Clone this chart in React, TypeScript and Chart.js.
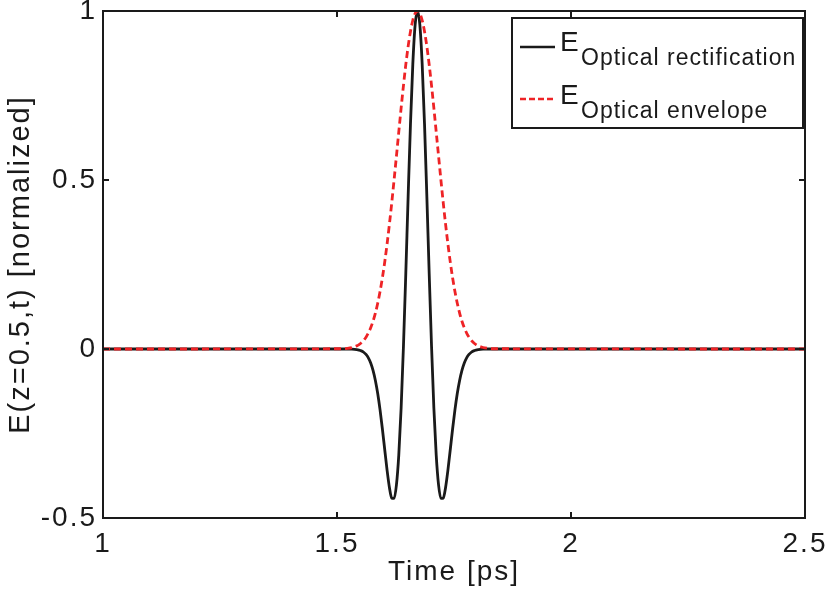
import React, { useEffect, useRef } from "react";
import { Chart, registerables } from "chart.js";

Chart.register(...registerables);

// Time axis samples [ps]
const timePs = [
  1.0, 1.512, 1.522, 1.532,
  1.542, 1.547, 1.552, 1.557, 1.562, 1.567, 1.572, 1.577, 1.582, 1.587,
  1.592, 1.597, 1.602, 1.607, 1.612, 1.617, 1.622, 1.627, 1.632, 1.637,
  1.642, 1.647, 1.652, 1.657, 1.662, 1.667, 1.672, 1.677, 1.682, 1.687,
  1.692, 1.697, 1.702, 1.707, 1.712, 1.717, 1.722, 1.727, 1.732, 1.737,
  1.742, 1.747, 1.752, 1.757, 1.762, 1.767, 1.772, 1.777, 1.782, 1.787,
  1.792, 1.797, 1.802, 1.812, 1.822, 1.832, 2.5,
];

// E optical rectification (normalized)
const rectification = [
  0, 0, 0, -0.0004,
  -0.0017, -0.0031, -0.0055, -0.0096, -0.0162, -0.0263, -0.0415, -0.0632, -0.093, -0.1319,
  -0.1802, -0.2366, -0.298, -0.3583, -0.4096, -0.4412, -0.4422, -0.4021, -0.3138, -0.1753,
  0.0081, 0.2234, 0.4509, 0.6659, 0.8429, 0.9594, 1.0, 0.9594, 0.8429, 0.6659,
  0.4509, 0.2234, 0.0081, -0.1753, -0.3138, -0.4021, -0.4422, -0.4412, -0.4096, -0.3583,
  -0.298, -0.2366, -0.1802, -0.1319, -0.093, -0.0632, -0.0415, -0.0263, -0.0162, -0.0096,
  -0.0055, -0.0031, -0.0017, -0.0004, 0, 0, 0,
];

// E optical envelope (normalized)
const envelope = [
  0, 0.0008, 0.002, 0.0044,
  0.0093, 0.0132, 0.0186, 0.0257, 0.0351, 0.0473, 0.0628, 0.0822, 0.1062, 0.1353,
  0.1701, 0.2108, 0.2576, 0.3105, 0.3692, 0.4328, 0.5006, 0.5709, 0.6422, 0.7124,
  0.7795, 0.8411, 0.8952, 0.9396, 0.9727, 0.9931, 1.0, 0.9931, 0.9727, 0.9396,
  0.8952, 0.8411, 0.7795, 0.7124, 0.6422, 0.5709, 0.5006, 0.4328, 0.3692, 0.3105,
  0.2576, 0.2108, 0.1701, 0.1353, 0.1062, 0.0822, 0.0628, 0.0473, 0.0351, 0.0257,
  0.0186, 0.0132, 0.0093, 0.0044, 0.002, 0.0008, 0,
];

const xTickValues = [1, 1.5, 2, 2.5];
const xTickLabels = ["1", "1.5", "2", "2.5"];
const yTickValues = [-0.5, 0, 0.5, 1];
const yTickLabels = ["-0.5", "0", "0.5", "1"];

const xTitle = "Time [ps]";
const yTitle = "E(z=0.5,t) [normalized]";
const legendMain = "E";
const legendSubs = ["Optical rectification", "Optical envelope"];

const FONT = "'Liberation Sans', Arial, sans-serif";
const RED = "#ee2326";
const BLACK = "#1a1a1a";

const framePlugin = {
  id: "frame",
  beforeDraw(chart: any) {
    chart.ctx.letterSpacing = "2px";
  },
  afterDraw(chart: any) {
    const ctx = chart.ctx;
    const ca = chart.chartArea;
    const xs = chart.scales.x;
    const ys = chart.scales.y;
    ctx.save();
    ctx.letterSpacing = "0px";
    ctx.strokeStyle = BLACK;
    ctx.lineWidth = 2;
    ctx.setLineDash([]);
    ctx.strokeRect(ca.left, ca.top, ca.right - ca.left, ca.bottom - ca.top);
    const tl = 6;
    ctx.beginPath();
    xTickValues.forEach((v) => {
      const px = xs.getPixelForValue(v);
      ctx.moveTo(px, ca.bottom);
      ctx.lineTo(px, ca.bottom - tl);
      ctx.moveTo(px, ca.top);
      ctx.lineTo(px, ca.top + tl);
    });
    yTickValues.forEach((v) => {
      const py = ys.getPixelForValue(v);
      ctx.moveTo(ca.left, py);
      ctx.lineTo(ca.left + tl, py);
      ctx.moveTo(ca.right, py);
      ctx.lineTo(ca.right - tl, py);
    });
    ctx.stroke();

    // legend
    const bx = ca.right - 293;
    const by = ca.top + 7;
    const bw = 291;
    const bh = 110;
    ctx.fillStyle = "#ffffff";
    ctx.fillRect(bx, by, bw, bh);
    ctx.strokeRect(bx, by, bw, bh);
    const rows = [
      { color: BLACK, dash: [] as number[], lineY: by + 29, base: by + 33 },
      { color: RED, dash: [6, 3], lineY: by + 81, base: by + 86 },
    ];
    rows.forEach((r, i) => {
      ctx.beginPath();
      ctx.strokeStyle = r.color;
      ctx.lineWidth = 2.5;
      ctx.setLineDash(r.dash);
      ctx.moveTo(bx + 8, r.lineY);
      ctx.lineTo(bx + 43, r.lineY);
      ctx.stroke();
      ctx.setLineDash([]);
      ctx.fillStyle = BLACK;
      ctx.textAlign = "left";
      ctx.textBaseline = "alphabetic";
      ctx.font = `28px ${FONT}`;
      ctx.letterSpacing = "0px";
      ctx.fillText(legendMain, bx + 48, r.base);
      ctx.font = `23px ${FONT}`;
      ctx.letterSpacing = "1px";
      ctx.fillText(legendSubs[i], bx + 69, r.base + 14);
    });
    ctx.restore();
  },
};

export default function App() {
  const ref = useRef<HTMLCanvasElement>(null);
  useEffect(() => {
    if (!ref.current) return;
    const chart = new Chart(ref.current, {
      type: "line",
      data: {
        datasets: [
          {
            label: "E Optical envelope",
            data: timePs.map((t, i) => ({ x: t, y: envelope[i] })),
            borderColor: RED,
            borderWidth: 2.8,
            borderDash: [7, 4],
            pointRadius: 0,
            cubicInterpolationMode: "monotone",
            order: 0,
          },
          {
            label: "E Optical rectification",
            data: timePs.map((t, i) => ({ x: t, y: rectification[i] })),
            borderColor: BLACK,
            borderWidth: 2.8,
            pointRadius: 0,
            cubicInterpolationMode: "monotone",
            order: 1,
          },
        ],
      },
      options: {
        responsive: false,
        animation: false,
        layout: { padding: { left: 0, right: 27, top: 11, bottom: 0 } },
        plugins: { legend: { display: false }, tooltip: { enabled: false } },
        scales: {
          x: {
            type: "linear",
            min: 1,
            max: 2.5,
            grid: { display: false, drawTicks: false },
            border: { display: false },
            afterBuildTicks: (s: any) => {
              s.ticks = xTickValues.map((v) => ({ value: v }));
            },
            afterFit: (s: any) => {
              s.height = 76;
              s.paddingLeft = 0;
              s.paddingRight = 0;
            },
            ticks: {
              color: BLACK,
              font: { family: FONT, size: 28 },
              padding: 9,
              maxRotation: 0,
              autoSkip: false,
              callback: (_v: any, i: number) => xTickLabels[i],
            },
            title: {
              display: true,
              text: xTitle,
              color: BLACK,
              font: { family: FONT, size: 28 },
              padding: { top: 0, bottom: 5 },
            },
          },
          y: {
            type: "linear",
            min: -0.5,
            max: 1,
            grid: { display: false, drawTicks: false },
            border: { display: false },
            afterBuildTicks: (s: any) => {
              s.ticks = yTickValues.map((v) => ({ value: v }));
            },
            afterFit: (s: any) => {
              s.width = 103;
              s.paddingTop = 0;
              s.paddingBottom = 0;
            },
            ticks: {
              color: BLACK,
              font: { family: FONT, size: 28 },
              padding: 6,
              autoSkip: false,
              callback: (_v: any, i: number) => yTickLabels[i],
            },
            title: {
              display: true,
              text: yTitle,
              color: BLACK,
              font: { family: FONT, size: 29 },
              padding: { top: 4, bottom: 0 },
            },
          },
        },
      },
      plugins: [framePlugin],
    });
    return () => chart.destroy();
  }, []);
  return (
    <div style={{ position: "fixed", left: 0, top: 0, width: 832, height: 594, background: "#fff" }}>
      <canvas ref={ref} width={832} height={594} />
    </div>
  );
}
